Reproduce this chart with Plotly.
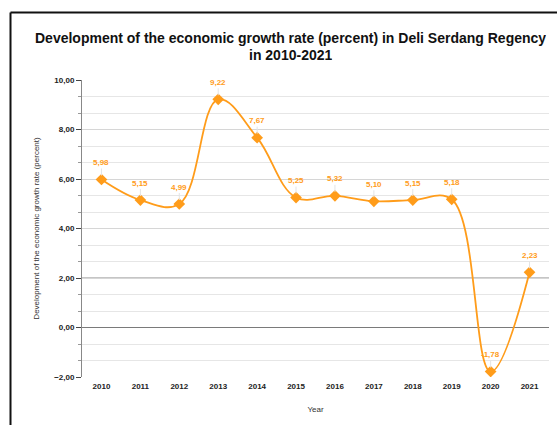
import plotly.graph_objects as go

years = [2010, 2011, 2012, 2013, 2014, 2015, 2016, 2017, 2018, 2019, 2020, 2021]
growth = [5.98, 5.15, 4.99, 9.22, 7.67, 5.25, 5.32, 5.10, 5.15, 5.18, -1.78, 2.23]
labels = ["5,98", "5,15", "4,99", "9,22", "7,67", "5,25", "5,32", "5,10", "5,15", "5,18", "-1,78", "2,23"]
title_line1 = "Development of the economic growth rate (percent) in Deli Serdang Regency"
title_line2 = "in 2010-2021"

W, H = 557, 425
ML, MR, MT, MB = 82, 8, 80, 48
ORANGE = "#FF9C1A"
FONT = "Liberation Sans, Arial, sans-serif"

fig = go.Figure()
fig.add_trace(go.Scatter(
    x=years, y=growth, mode="lines+markers",
    line=dict(color=ORANGE, width=1.8, shape="spline", smoothing=1.1),
    marker=dict(symbol="diamond", size=9, color=ORANGE),
    hoverinfo="skip", showlegend=False,
))

annotations = []
for x, y, t in zip(years, growth, labels):
    annotations.append(dict(
        x=x, y=y, xref="x", yref="y", text="<b>" + t + "</b>",
        showarrow=True, arrowhead=0, arrowwidth=1, arrowcolor="#e4e4e4",
        ax=0, ay=-17, standoff=4,
        font=dict(family=FONT, size=8, color=ORANGE),
    ))

pw = W - ML - MR
ph = H - MT - MB
title_cx = (290 - ML) / pw
annotations.append(dict(
    text="<b>" + title_line1 + "</b>", xref="paper", yref="paper",
    x=title_cx, y=(H - MB - 38) / ph, xanchor="center", yanchor="middle",
    height=16, borderpad=0,
    showarrow=False, font=dict(family=FONT, size=14, color="#111"),
))
annotations.append(dict(
    text="<b>" + title_line2 + "</b>", xref="paper", yref="paper",
    x=title_cx, y=(H - MB - 54.5) / ph, xanchor="center", yanchor="middle",
    height=16, borderpad=0,
    showarrow=False, font=dict(family=FONT, size=14, color="#111"),
))

left_px, top_px = 10.5, 12.5
fx = (left_px - ML) / pw
fy = (H - MB - top_px) / ph

fig.update_layout(
    width=W, height=H,
    margin=dict(l=ML, r=MR, t=MT, b=MB),
    paper_bgcolor="white", plot_bgcolor="white",
    separators=",.",
    font=dict(family=FONT, color="#222"),
    xaxis=dict(
        range=[2009.5, 2021.5], tickmode="array", tickvals=years,
        ticktext=[str(v) for v in years],
        showgrid=False, showline=False, ticks="", zeroline=False,
        ticklabelstandoff=3,
        tickfont=dict(family=FONT, size=8, color="#222", weight="bold"),
        title=dict(text="Year", font=dict(family=FONT, size=8, color="#333"), standoff=16),
        automargin=False,
    ),
    yaxis=dict(
        range=[-2, 10], dtick=2, tick0=0, tickformat=".2f",
        showgrid=True, gridcolor="#d6d6d6", gridwidth=1,
        zeroline=True, zerolinecolor="#7a7a7a", zerolinewidth=1,
        showline=True, linecolor="#888", linewidth=1,
        ticks="outside", ticklen=5, tickcolor="#444",
        tickfont=dict(family=FONT, size=8, color="#222", weight="bold"),
        minor=dict(dtick=2 / 3, tick0=0, showgrid=True, gridcolor="#e6e6e6",
                   ticks="outside", ticklen=3, tickcolor="#999"),
        title=dict(text="Development of the economic growth rate (percent)",
                   font=dict(family=FONT, size=8, color="#333"), standoff=13),
        automargin=False,
    ),
    annotations=annotations,
    shapes=[
        dict(type="line", xref="paper", yref="y", x0=0, x1=1, y0=2, y1=2,
             line=dict(color="#8a8a8a", width=1), layer="below"),
        dict(type="line", xref="paper", yref="paper", x0=fx, x1=fx, y0=fy, y1=-1,
             line=dict(color="#111", width=2)),
        dict(type="line", xref="paper", yref="paper", x0=fx, x1=2, y0=fy, y1=fy,
             line=dict(color="#111", width=2)),
    ],
)

fig.write_html("out.html")
